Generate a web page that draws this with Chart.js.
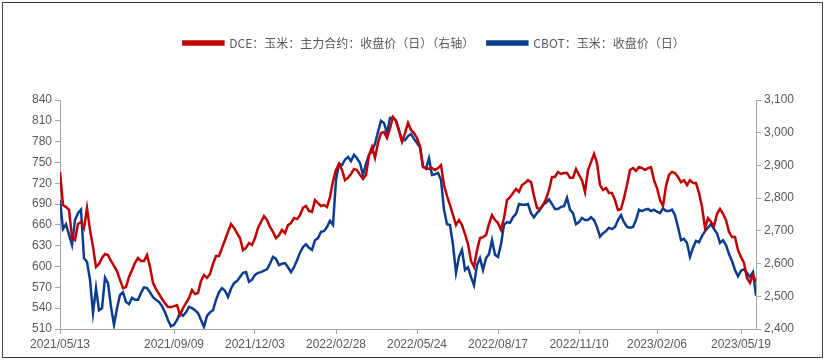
<!DOCTYPE html>
<html><head><meta charset="utf-8">
<script src="https://cdn.jsdelivr.net/npm/chart.js@4.4.0/dist/chart.umd.min.js"></script>
<style>html,body{margin:0;padding:0;background:#fff;}canvas{display:block;}</style>
</head><body>
<canvas id="c" width="826" height="361"></canvas>
<script>
// x positions of the date ticks (index into the series) and their labels
const tickIndex = [0, 38, 65, 92, 119, 146, 173, 199, 227];
const tickLabels = ['2021/05/13','2021/09/09','2021/12/03','2022/02/28','2022/05/24','2022/08/17','2022/11/10','2023/02/06','2023/05/19'];

const seriesNames = ['DCE：玉米：主力合约：收盘价（日）（右轴）', 'CBOT：玉米：收盘价（日）'];

// DCE corn main contract close (right axis)
const dceCorn = [
2880,2779,2773,2764,2681,2672,2721,2727,2709,2770,
2703,2651,2590,2599,2617,2629,2626,2608,2593,2577,
2550,2525,2528,2559,2580,2602,2617,2608,2608,2626,
2590,2541,2522,2507,2492,2479,2467,2467,2470,2473,
2443,2464,2479,2495,2519,2507,2510,2547,2565,2556,
2568,2599,2623,2623,2648,2672,2697,2721,2709,2693,
2678,2641,2648,2663,2657,2678,2709,2727,2745,2733,
2712,2697,2678,2687,2703,2693,2718,2724,2739,2736,
2748,2770,2776,2761,2758,2794,2785,2776,2779,2773,
2803,2852,2886,2904,2886,2855,2862,2874,2889,2886,
2871,2859,2871,2932,2956,2923,2969,2999,3002,2984,
3014,3048,3036,3005,2972,2999,3030,3008,2999,2984,
2959,2895,2892,2889,2892,2886,2892,2901,2840,2807,
2779,2748,2718,2733,2718,2690,2660,2608,2590,2641,
2678,2681,2687,2721,2748,2733,2724,2703,2739,2794,
2803,2816,2828,2819,2840,2846,2855,2849,2807,2770,
2767,2779,2797,2825,2865,2865,2880,2874,2877,2877,
2862,2862,2889,2871,2855,2819,2886,2910,2935,2907,
2840,2825,2831,2816,2816,2794,2764,2767,2800,2840,
2886,2892,2883,2895,2892,2886,2892,2895,2855,2831,
2794,2776,2837,2871,2880,2877,2865,2849,2855,2840,
2855,2846,2846,2816,2773,2709,2739,2727,2715,2752,
2767,2752,2733,2697,2681,2681,2641,2620,2602,2556,
2541,2565,2544
];

// CBOT corn close (left axis)
const cbotCorn = [
696,654,661,646,631,667,677,682,612,607,
581,533,569,537,540,584,576,542,516,540,
559,563,549,546,555,552,552,562,570,569,
563,556,552,549,543,534,523,514,516,523,
533,529,534,542,540,537,533,523,513,529,
534,537,552,563,569,565,556,568,576,579,
585,591,592,578,581,588,591,592,594,596,
604,614,611,602,604,605,599,592,599,609,
620,628,632,627,624,638,641,650,651,657,
666,660,725,748,746,754,758,752,761,756,
749,732,748,761,766,777,794,810,807,792,
814,815,810,797,782,782,788,791,784,778,
772,744,741,756,732,733,735,725,682,661,
660,631,591,614,624,595,599,585,573,602,
612,595,612,618,638,617,614,632,660,664,
663,671,676,690,689,689,690,677,671,677,
682,689,692,697,690,683,683,686,687,699,
682,677,661,664,670,667,667,671,667,657,
643,648,651,656,654,657,667,674,664,657,
656,657,667,682,680,682,683,680,682,679,
677,684,680,680,682,674,657,638,640,634,
614,627,637,635,644,651,656,661,654,648,
634,638,631,618,608,595,586,594,596,591,
585,592,558
];

const AXIS = '#A6A6A6';
const TXT = '#595959';
const tickFont = { family: "'Liberation Sans',Arial,sans-serif", size: 12 };

const frame = {
  id: 'frame',
  beforeInit(chart) {
    const fit = chart.legend.fit;
    chart.legend.fit = function () { fit.call(this); this.height = 76; };
  },
  afterLayout(chart) {
    chart.legend.left += 15;
  },
  afterDraw(chart) {
    const c = chart.ctx;
    c.save();
    c.strokeStyle = '#404040';
    c.lineWidth = 1;
    c.strokeRect(2.5, 2.5, 820, 355);
    c.restore();
  }
};

new Chart(document.getElementById('c'), {
  type: 'line',
  data: {
    labels: cbotCorn.map((_, i) => i),
    datasets: [
      { label: seriesNames[0], data: dceCorn, yAxisID: 'yR', borderColor: '#C00000', backgroundColor: '#C00000', borderWidth: 2.5, pointRadius: 0, tension: 0 },
      { label: seriesNames[1], data: cbotCorn, yAxisID: 'yL', borderColor: '#0B3C8F', backgroundColor: '#0B3C8F', borderWidth: 2.5, pointRadius: 0, tension: 0 }
    ]
  },
  options: {
    responsive: false,
    animation: false,
    devicePixelRatio: 1,
    layout: { padding: { top: 24, left: 27, right: 0, bottom: 0 } },
    plugins: {
      legend: {
        position: 'top',
        labels: { boxWidth: 40, boxHeight: 3, padding: 13, color: TXT, font: { family: "'Noto Sans CJK SC',sans-serif", size: 12 } }
      },
      tooltip: { enabled: false }
    },
    scales: {
      x: {
        type: 'linear', min: 0, max: cbotCorn.length - 1,
        afterBuildTicks: s => { s.ticks = tickIndex.map(v => ({ value: v })); },
        afterFit: s => { s.height = 32; },
        ticks: { autoSkip: false, maxRotation: 0, padding: 3, color: TXT, font: tickFont,
          callback: v => tickLabels[tickIndex.indexOf(v)] },
        grid: { display: true, drawOnChartArea: false, tickLength: 5, color: AXIS },
        border: { display: true, color: AXIS }
      },
      yL: {
        position: 'left', min: 510, max: 840,
        afterBuildTicks: s => { const t = []; for (let v = 510; v <= 840; v += 30) t.push({ value: v }); s.ticks = t; },
        afterFit: s => { s.width = 33; },
        ticks: { padding: 3, color: TXT, font: tickFont },
        grid: { display: true, drawOnChartArea: false, tickLength: 5, color: AXIS },
        border: { display: true, color: AXIS }
      },
      yR: {
        position: 'right', min: 2400, max: 3100,
        afterBuildTicks: s => { const t = []; for (let v = 2400; v <= 3100; v += 100) t.push({ value: v }); s.ticks = t; },
        afterFit: s => { s.width = 70; },
        ticks: { padding: 3, color: TXT, font: tickFont, callback: v => v.toLocaleString('en-US') },
        grid: { display: true, drawOnChartArea: false, tickLength: 5, color: AXIS },
        border: { display: true, color: AXIS }
      }
    }
  },
  plugins: [frame]
});
</script>
</body></html>
